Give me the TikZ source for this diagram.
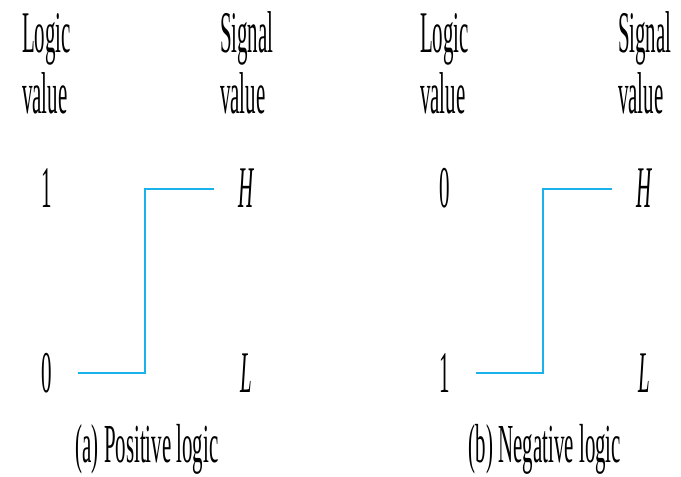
\documentclass[tikz,border=0pt]{standalone}
\usepackage{fontspec}
\setmainfont{Liberation Serif}
\definecolor{sigblue}{RGB}{25,178,235}
\begin{document}
\begin{tikzpicture}[x=1pt,y=-1pt,
  lbl/.style={inner sep=0pt,outer sep=0pt,xscale=0.355,font=\fontsize{59}{61}\selectfont},
  head/.style={lbl,anchor=base west},
  lvl/.style={lbl,anchor=base},
  captext/.style={inner sep=0pt,outer sep=0pt,xscale=0.38,anchor=base,font=\fontsize{55}{60}\selectfont},
  wave/.style={draw=sigblue,line width=2.6pt,line cap=butt,line join=miter}]
\useasboundingbox (0,0) rectangle (681,477);
\foreach \dx/\p/\top/\bot/\capt in {0/a/1/0/{(a) Positive logic},398/b/0/1/{(b) Negative logic}}{
  \begin{scope}[xshift=\dx pt]
    \node[head] (logic\p) at (22,52) {Logic};
    \node[head] (lvalue\p) at (22,113) {value};
    \node[head] (signal\p) at (220,52) {Signal};
    \node[head] (svalue\p) at (220,113) {value};
    \node[lvl] (top\p) at (47,207) {\top};
    \node[lvl] (bot\p) at (47,392) {\bot};
    \node[lvl] (H\p) at (246,207) {\itshape H};
    \node[lvl] (L\p) at (246,392) {\itshape L};
    \node[captext] (caption\p) at (147,462) {\capt};
    \coordinate (w1\p) at (78,373);
    \coordinate (w2\p) at (145,373);
    \coordinate (w3\p) at (145,189);
    \coordinate (w4\p) at (214,189);
    \draw[wave] (w1\p) -- (w2\p) -- (w3\p) -- (w4\p);
  \end{scope}
}
\end{tikzpicture}
\end{document}
